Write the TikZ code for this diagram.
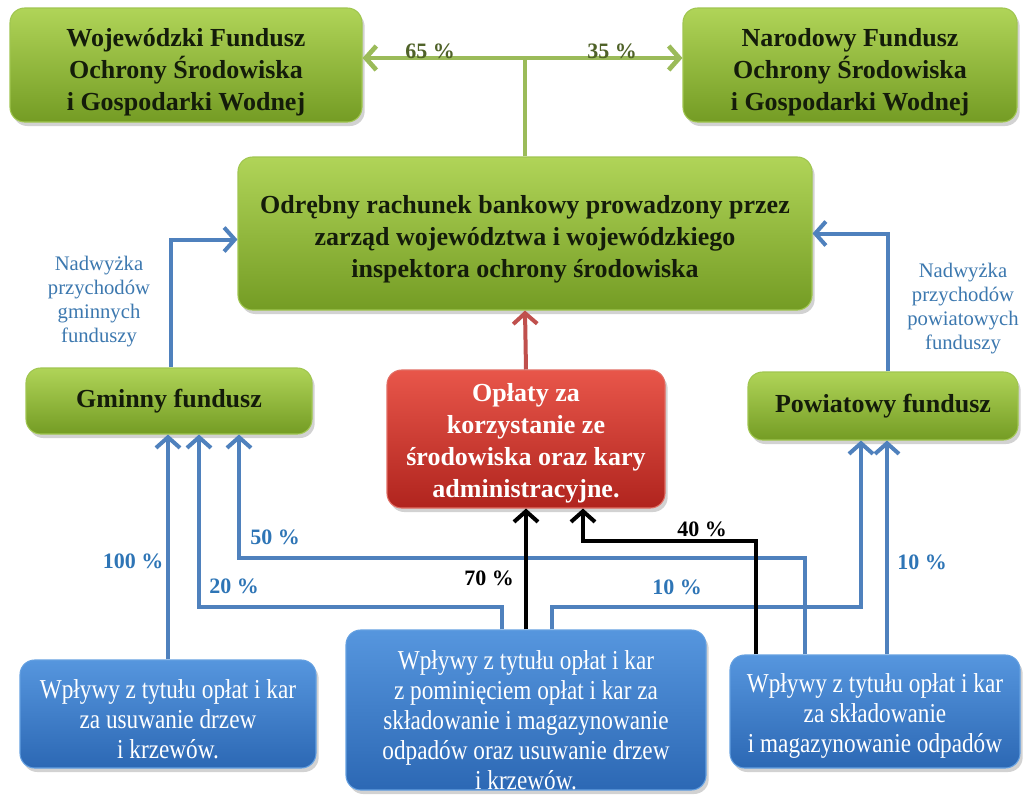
\documentclass[tikz,border=0pt]{standalone}
\usepackage{fontspec}
\setmainfont{Liberation Serif}
\newfontfamily\condfont[FakeStretch=0.85]{Liberation Serif}
\usetikzlibrary{arrows.meta,shadows,calc}
\newcommand\lowr[1]{\rule{0pt}{#1}}
\definecolor{gTop}{RGB}{176,212,88}
\definecolor{gBot}{RGB}{116,156,36}
\definecolor{gEdge}{RGB}{160,198,80}
\definecolor{rTop}{RGB}{232,86,74}
\definecolor{rBot}{RGB}{176,36,30}
\definecolor{rEdge}{RGB}{225,110,100}
\definecolor{bTop}{RGB}{86,150,222}
\definecolor{bBot}{RGB}{44,104,180}
\definecolor{bEdge}{RGB}{100,160,225}
\definecolor{lineBlue}{RGB}{79,129,189}
\definecolor{lineGreen}{RGB}{155,187,89}
\definecolor{lineRed}{RGB}{192,80,77}
\definecolor{txtBlue}{RGB}{46,117,182}
\definecolor{txtLblue}{RGB}{60,120,175}
\definecolor{txtGreen}{RGB}{79,98,40}
\definecolor{txtDark}{RGB}{20,28,10}
\tikzset{
  box/.style={rounded corners=11pt, inner sep=0pt, align=center, line width=0.8pt,
    drop shadow={opacity=0.35, shadow xshift=2pt, shadow yshift=-3pt}},
  greenbox/.style={box, top color=gTop, bottom color=gBot, draw=gEdge, text=txtDark,
    font=\fontsize{19.5}{24}\selectfont\bfseries},
  redbox/.style={box, top color=rTop, bottom color=rBot, draw=rEdge, text=white,
    font=\fontsize{19.5}{24}\selectfont\bfseries},
  bluebox/.style={box, top color=bTop, bottom color=bBot, draw=bEdge, text=white,
    font=\condfont\fontsize{20.5}{22.5}\selectfont},
  tip/.style={-{Straight Barb[length=8pt,width=18pt]}},
  bluearrow/.style={tip, draw=lineBlue, line width=3pt},
  blackarrow/.style={tip, draw=black, line width=3pt},
  greenarrow/.style={tip, draw=lineGreen, line width=3.5pt},
  redarrow/.style={tip, draw=lineRed, line width=3pt},
  bluepct/.style={text=txtBlue, font=\fontsize{16.5}{20}\selectfont\bfseries},
  blackpct/.style={text=black, font=\fontsize{16.5}{20}\selectfont\bfseries},
  greenpct/.style={text=txtGreen, font=\fontsize{16.5}{20}\selectfont\bfseries},
  sidelabel/.style={text=txtLblue, align=center, font=\fontsize{15.5}{18}\selectfont}
}
\begin{document}
\begin{tikzpicture}[x=0.75pt,y=-0.75pt]
\useasboundingbox[fill=white] (0,0) rectangle (1025,794);
% nodes
\node[greenbox, minimum width=264pt, minimum height=85.5pt] (wf) at (186,65)
  {\lowr{25pt}Wojewódzki Fundusz\\Ochrony Środowiska\\i Gospodarki Wodnej};
\node[greenbox, minimum width=250.5pt, minimum height=85.5pt] (nf) at (850,65)
  {\lowr{25pt}Narodowy Fundusz\\Ochrony Środowiska\\i Gospodarki Wodnej};
\node[greenbox, minimum width=430.5pt, minimum height=114.75pt] (ce) at (525,233.5)
  {\lowr{22pt}Odrębny rachunek bankowy prowadzony przez\\zarząd województwa i wojewódzkiego\\inspektora ochrony środowiska};
\node[greenbox, minimum width=214.5pt, minimum height=49.5pt] (gm) at (169,401)
  {Gminny fundusz};
\node[redbox, minimum width=208.5pt, minimum height=103.5pt] (rd) at (526,439)
  {\lowr{19.5pt}Opłaty za\\korzystanie ze\\środowiska oraz kary\\administracyjne.};
\node[greenbox, minimum width=202.5pt, minimum height=51pt] (pw) at (883,406)
  {Powiatowy fundusz};
\node[bluebox, minimum width=222pt, minimum height=81pt] (bl) at (168,714)
  {\lowr{22pt}Wpływy z tytułu opłat i kar\\za usuwanie drzew\\i krzewów.};
\node[bluebox, minimum width=270pt, minimum height=120pt] (bm) at (526,710)
  {\lowr{29.5pt}Wpływy z tytułu opłat i kar\\z pominięciem opłat i kar za\\składowanie i magazynowanie\\odpadów oraz usuwanie drzew\\i krzewów.};
\node[bluebox, minimum width=217.5pt, minimum height=84.75pt] (br) at (875,711.5)
  {\lowr{20.5pt}Wpływy z tytułu opłat i kar\\za składowanie\\i magazynowanie odpadów};
% helper coordinates
\coordinate (gtop) at (525,58);
\coordinate (c20) at (199,607);
\coordinate (c50) at (239,558);
\coordinate (c40) at (583,541);
\coordinate (c10) at (861,607);
\coordinate (s20) at ([xshift=-18pt]bm.north);
\coordinate (s10) at ([xshift=19.5pt]bm.north);
\coordinate (s50) at ([xshift=-52.5pt]br.north);
\coordinate (s40) at ([xshift=-89.25pt]br.north);
\coordinate (s10r) at ([xshift=9pt]br.north);
\coordinate (gmup) at ([xshift=1.5pt]gm.north);
\coordinate (pwup) at ([xshift=3.75pt]pw.north);
% green split
\draw[lineGreen, line width=3.5pt] (ce.north) -- (gtop);
\draw[greenarrow] (gtop) -- (gtop -| wf.east);
\draw[greenarrow] (gtop) -- (gtop -| nf.west);
\node[greenpct] (p65) at (430,51) {65 \%};
\node[greenpct] (p35) at (612,51) {35 \%};
% red
\draw[redarrow] (rd.north) -- (ce.south);
% surplus arrows
\draw[bluearrow] (gmup) |- ([yshift=-4.5pt]ce.west);
\draw[bluearrow] (pwup) |- (ce.east);
\node[sidelabel] (lg) at (99,302) {Nadwyżka\\przychodów\\gminnych\\funduszy};
\node[sidelabel] (lp) at (963,309) {Nadwyżka\\przychodów\\powiatowych\\funduszy};
% blue flows to gminny
\draw[bluearrow] (bl.north) -- (bl.north |- gm.south);
\draw[bluearrow] (s20) |- (c20) -- (c20 |- gm.south);
\draw[bluearrow] (s50) |- (c50) -- (c50 |- gm.south);
% blue flows to powiatowy
\draw[bluearrow] (s10) |- (c10) -- (c10 |- pw.south);
\draw[bluearrow] (s10r) -- (s10r |- pw.south);
% black flows to red
\draw[blackarrow] (bm.north) -- (bm.north |- rd.south);
\draw[blackarrow] (s40) |- (c40) -- (c40 |- rd.south);
% percentage labels
\node[bluepct] (p100) at (133,561) {100 \%};
\node[bluepct] (p20) at (234,586) {20 \%};
\node[bluepct] (p50) at (275,537) {50 \%};
\node[blackpct] (p70) at (489,578) {70 \%};
\node[blackpct] (p40) at (702,529) {40 \%};
\node[bluepct] (p10a) at (677,587) {10 \%};
\node[bluepct] (p10b) at (922,562) {10 \%};
\end{tikzpicture}
\end{document}
